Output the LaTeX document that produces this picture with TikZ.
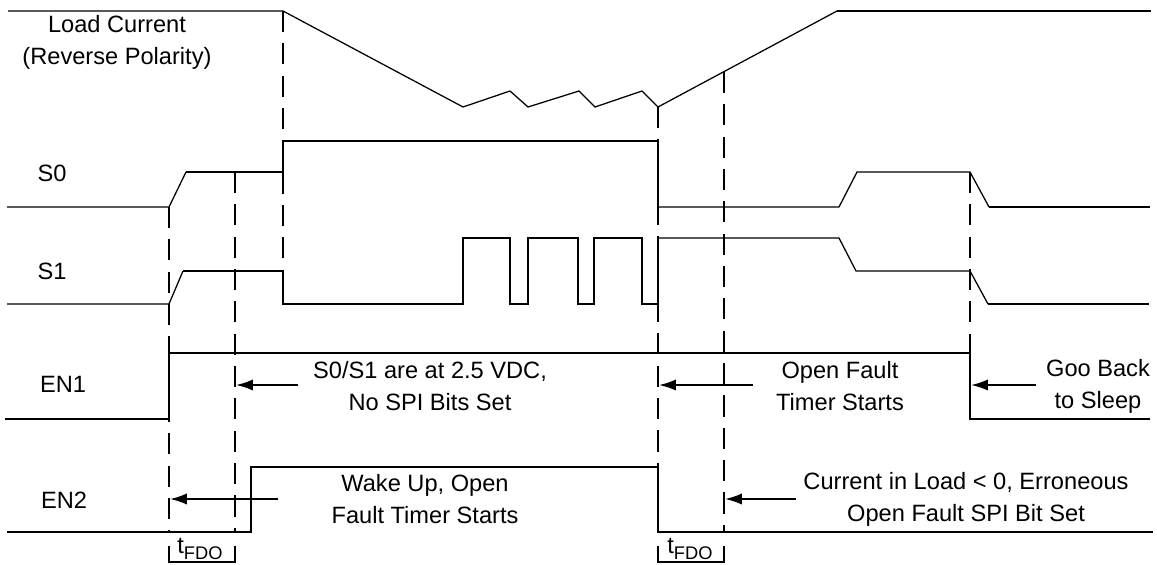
\documentclass[tikz,border=0pt]{standalone}
\usepackage{fontspec}
\setmainfont{Liberation Sans}
\usetikzlibrary{arrows.meta}
\begin{document}
\begin{tikzpicture}[x=0.025cm,y=-0.025cm,
  sig/.style={line width=1.5pt},
  faint/.style={line width=.9pt},
  guide/.style={line width=1.3pt,dash pattern=on 15pt off 8pt},
  pointer/.style={line width=1.3pt,-{Latex[length=12pt,width=8pt]}},
  lbl/.style={font=\fontsize{16.8}{22.6}\selectfont,inner sep=0pt},
  note/.style={lbl,align=center}]
  \useasboundingbox (0,0) rectangle (1157,565);
  % timing guides
  \draw[guide](169,207)--(169,532);
  \draw[guide](235,172)--(235,532);
  \draw[guide](283,11)--(283,304);
  \draw[guide](658,107)--(658,532);
  \draw[guide](724,72)--(724,532);
  \draw[guide](970,172)--(970,353);
  % load current
  \draw[faint](8,11)--(283,11)--(463,107)--(510,91)--(528,107)--(579,91)--(595,107)--(642,91)--(658,107)--(837,11);
  \draw[sig](837,11)--(1151,11);
  % S0
  \draw[faint](7,207)--(169,207)--(186,172);
  \draw[sig](186,172)--(283,172)--(283,141)--(658,141)--(658,207);
  \draw[faint](658,207)--(839,207)--(857,172)--(970,172)--(989,207);
  \draw[sig](989,207)--(1150,207);
  % S1
  \draw[faint](7,304)--(169,304)--(183,271);
  \draw[sig](183,271)--(283,271)--(283,304)--(463,304)--(463,238)--(510,238)--(510,304)--(528,304)--(528,238)--(578,238)--(578,304)--(594,304)--(594,238)--(642,238)--(642,304)--(658,304)--(658,238);
  \draw[faint](658,238)--(839,238)--(856,271)--(970,271)--(988,304);
  \draw[sig](988,304)--(1149,304);
  % EN1, EN2
  \draw[sig](5,419)--(169,419)--(169,353)--(970,353)--(970,419)--(1150,419);
  \draw[sig](7,532)--(251,532)--(251,467)--(658,467)--(658,532)--(1153,532);
  % t_FDO brackets
  \draw[sig](169,546)--(169,562)--(235,562)--(235,546);
  \draw[sig](658,546)--(658,562)--(724,562)--(724,546);
  \node[lbl](fdoA) at (200,549) {t\raisebox{-.45ex}{\fontsize{13}{13}\selectfont FDO}};
  \node[lbl](fdoB) at (690,549) {t\raisebox{-.45ex}{\fontsize{13}{13}\selectfont FDO}};
  % signal names
  \node[note](lcur) at (117,42.5) {Load Current\\(Reverse Polarity)};
  \node[lbl](s0) at (52,173) {S0};
  \node[lbl](s1) at (52,271) {S1};
  \node[lbl](en1) at (63,384) {EN1};
  \node[lbl](en2) at (64,500) {EN2};
  % notes
  \node[note](nbits) at (430,386) {S0/S1 are at 2.5 VDC,\\No SPI Bits Set};
  \node[note](ntimer) at (840,386) {Open Fault\\Timer Starts};
  \node[note](nsleep) at (1098,386) {Goo Back\\to Sleep};
  \node[note](nwake) at (425,499) {Wake Up, Open\\Fault Timer Starts};
  \node[note](nerr) at (966,499) {Current in Load < 0, Erroneous\\Open Fault SPI Bit Set};
  % pointers
  \coordinate(pbits) at (298,385); \coordinate(gbits) at (236,385);
  \coordinate(ptimer) at (753,385); \coordinate(gtimer) at (659,385);
  \coordinate(psleep) at (1036,385); \coordinate(gsleep) at (971,385);
  \coordinate(pwake) at (278,499); \coordinate(gwake) at (170,499);
  \coordinate(perr) at (796,499); \coordinate(gerr) at (725,499);
  \draw[pointer](pbits)--(gbits);
  \draw[pointer](ptimer)--(gtimer);
  \draw[pointer](psleep)--(gsleep);
  \draw[pointer](pwake)--(gwake);
  \draw[pointer](perr)--(gerr);
\end{tikzpicture}
\end{document}
